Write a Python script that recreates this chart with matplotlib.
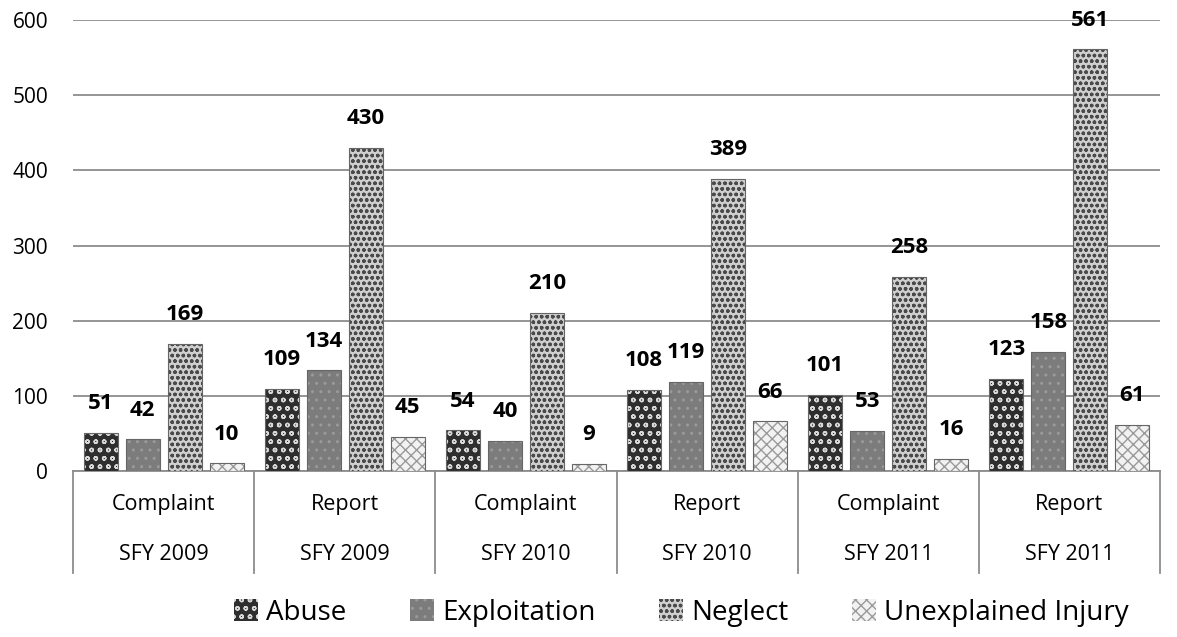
import matplotlib
matplotlib.use("Agg")
import matplotlib.pyplot as plt
from matplotlib.patches import Patch
import numpy as np

plt.rcParams['font.family'] = ['Open Sans', 'DejaVu Sans']
plt.rcParams['hatch.linewidth'] = 1.0

categories_top = ["Complaint", "Report", "Complaint", "Report", "Complaint", "Report"]
categories_year = ["SFY 2009", "SFY 2009", "SFY 2010", "SFY 2010", "SFY 2011", "SFY 2011"]
series_names = ["Abuse", "Exploitation", "Neglect", "Unexplained Injury"]
abuse = [51, 109, 54, 108, 101, 123]
exploitation = [42, 134, 40, 119, 53, 158]
neglect = [169, 430, 210, 389, 258, 561]
unexplained = [10, 45, 9, 66, 16, 61]
yticks = [0, 100, 200, 300, 400, 500, 600]

series = [abuse, exploitation, neglect, unexplained]
faces = ['#2e2e2e', '#7c7c7c', '#cfcfcf', '#f2f2f2']
hatches = ['oo', '..', 'ooo', 'xxx']
hcolors = ['#d8d8d8', '#9a9a9a', '#4a4a4a', '#9a9a9a']

fig = plt.figure(figsize=(11.77, 6.37), dpi=100)
ax = fig.add_axes([73/1177, 1-471/637, (1160-73)/1177, 451/637])

n = len(categories_top)
x = np.arange(n)
step = 0.232
width = 0.188
for k, vals in enumerate(series):
    pos = x + (k - 1.5) * step
    ax.bar(pos, vals, width, color=faces[k], hatch=hatches[k], edgecolor=hcolors[k],
           linewidth=0, zorder=3)
    ax.bar(pos, vals, width, fill=False, edgecolor='#666666', linewidth=0.8, zorder=4)
    for p, v in zip(pos, vals):
        ax.annotate(str(v), (p, v), xytext=(0, 13.5), textcoords='offset points',
                    ha='center', va='bottom', fontsize=16, fontweight='bold', color='black')

ax.set_xlim(-0.5, n - 0.5)
ax.set_ylim(0, 600)
ax.set_yticks(yticks)
ax.tick_params(axis='y', length=0, pad=18, labelsize=15)
ax.set_xticks([])
ax.yaxis.grid(True, color='#8c8c8c', linewidth=1.3, zorder=0)
ax.set_axisbelow(True)
for s in ['top', 'right', 'left']:
    ax.spines[s].set_visible(False)
ax.spines['bottom'].set_color('#8c8c8c')
ax.spines['bottom'].set_linewidth(1.3)

trans = ax.get_xaxis_transform()
for b in np.arange(-0.5, n, 1.0):
    ax.plot([b, b], [0, -0.226], transform=trans, color='#8c8c8c', linewidth=1.3,
            clip_on=False)
for i in range(n):
    ax.text(i, -0.075, categories_top[i], transform=trans, ha='center', va='center', fontsize=15.5)
    ax.text(i, -0.186, categories_year[i], transform=trans, ha='center', va='center', fontsize=15.5)

handles = [Patch(facecolor=faces[k], hatch=hatches[k], edgecolor=hcolors[k], linewidth=0)
           for k in range(4)]
fig.legend(handles, series_names, loc='center', bbox_to_anchor=(0.579, 1-613/637), ncol=4,
           frameon=False, fontsize=20, handlelength=0.85, handleheight=0.85,
           handletextpad=0.3, columnspacing=2.3)

fig.savefig('out.png', dpi=100)
